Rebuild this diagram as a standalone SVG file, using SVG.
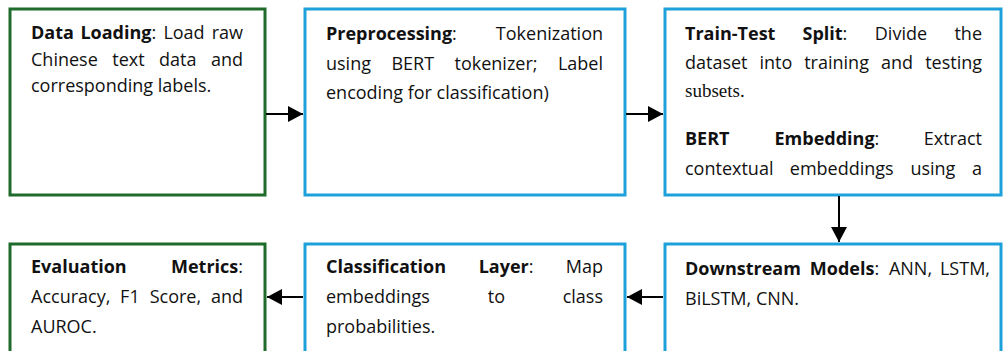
<svg xmlns="http://www.w3.org/2000/svg" width="1004" height="351" viewBox="0 0 1004 351">
  <style>
    .g { fill: #ffffff; stroke: #1f6b2b; stroke-width: 3; }
    .b { fill: #ffffff; stroke: #1ea0da; stroke-width: 3; }
    text { font-family: "Open Sans", "Liberation Sans", sans-serif; font-size: 18px; fill: #111111; }
    .bd { font-weight: bold; }
    .e { text-anchor: end; }
    .serif { font-family: "Liberation Serif", serif; font-size: 19px; }
    .conn { stroke: #000000; stroke-width: 2; fill: none; }
  </style>
  <defs>
    <marker id="ah" markerWidth="15" markerHeight="16" refX="15" refY="8" orient="auto" markerUnits="userSpaceOnUse">
      <path d="M0,0 L15,8 L0,16 z" fill="#000000"/>
    </marker>
  </defs>
  <rect width="1004" height="351" fill="#ffffff"/>

  <g id="data-loading">
    <rect class="g" x="10" y="9" width="255" height="186"/>
    <text x="31" y="39"><tspan class="bd">Data</tspan></text>
    <text x="80.4" y="39"><tspan class="bd">Loading</tspan>:</text>
    <text x="163.4" y="39">Load</text>
    <text class="e" x="243" y="39">raw</text>
    <text x="31" y="66">Chinese</text>
    <text x="112.3" y="66">text</text>
    <text x="159" y="66">data</text>
    <text class="e" x="243" y="66">and</text>
    <text x="31" y="92">corresponding labels.</text>
  </g>

  <g id="preprocessing">
    <rect class="b" x="305" y="9" width="320" height="186"/>
    <text x="326" y="40"><tspan class="bd">Preprocessing</tspan>:</text>
    <text class="e" x="603" y="40">Tokenization</text>
    <text x="326" y="70">using</text>
    <text x="391.4" y="70">BERT</text>
    <text x="454.5" y="70">tokenizer;</text>
    <text class="e" x="603" y="70">Label</text>
    <text x="326" y="99">encoding for classification)</text>
  </g>

  <g id="split-embedding">
    <rect class="b" x="665" y="9" width="336" height="186"/>
    <text x="685" y="40"><tspan class="bd">Train-Test</tspan></text>
    <text x="802.5" y="40"><tspan class="bd">Split</tspan>:</text>
    <text x="874.8" y="40">Divide</text>
    <text class="e" x="982" y="40">the</text>
    <text x="685" y="69">dataset</text>
    <text x="759.4" y="69">into</text>
    <text x="804.2" y="69">training</text>
    <text x="881" y="69">and</text>
    <text class="e" x="982" y="69">testing</text>
    <text class="serif" x="685" y="97">subsets.</text>
    <text x="685" y="145"><tspan class="bd">BERT</tspan></text>
    <text x="774.5" y="145"><tspan class="bd">Embedding</tspan>:</text>
    <text class="e" x="982" y="145">Extract</text>
    <text x="685" y="175">contextual</text>
    <text x="789.8" y="175">embeddings</text>
    <text x="910.4" y="175">using</text>
    <text class="e" x="982" y="175">a</text>
  </g>

  <g id="evaluation">
    <rect class="g" x="10" y="244" width="255" height="120"/>
    <text x="31" y="273"><tspan class="bd">Evaluation</tspan></text>
    <text class="e" x="243" y="273"><tspan class="bd">Metrics</tspan>:</text>
    <text x="31" y="303">Accuracy,</text>
    <text x="120.1" y="303">F1</text>
    <text x="149.7" y="303">Score,</text>
    <text class="e" x="243" y="303">and</text>
    <text x="31" y="333">AUROC.</text>
  </g>

  <g id="classification">
    <rect class="b" x="305" y="244" width="320" height="120"/>
    <text x="326" y="273"><tspan class="bd">Classification</tspan></text>
    <text x="478.7" y="273"><tspan class="bd">Layer</tspan>:</text>
    <text class="e" x="603" y="273">Map</text>
    <text x="326" y="303">embeddings</text>
    <text x="487.8" y="303">to</text>
    <text class="e" x="603" y="303">class</text>
    <text x="326" y="333">probabilities.</text>
  </g>

  <g id="downstream">
    <rect class="b" x="665" y="244" width="336" height="120"/>
    <text x="685" y="275"><tspan class="bd">Downstream</tspan></text>
    <text x="809.8" y="275"><tspan class="bd">Models</tspan>:</text>
    <text x="888.9" y="275">ANN,</text>
    <text class="e" x="990" y="275">LSTM,</text>
    <text x="685" y="305">BiLSTM, CNN.</text>
  </g>

  <g id="connectors">
    <path class="conn" d="M266,114 H303" marker-end="url(#ah)"/>
    <path class="conn" d="M626,114 H663" marker-end="url(#ah)"/>
    <path class="conn" d="M839,196 V242" marker-end="url(#ah)"/>
    <path class="conn" d="M663,297 H627" marker-end="url(#ah)"/>
    <path class="conn" d="M303,297 H267" marker-end="url(#ah)"/>
  </g>
</svg>
